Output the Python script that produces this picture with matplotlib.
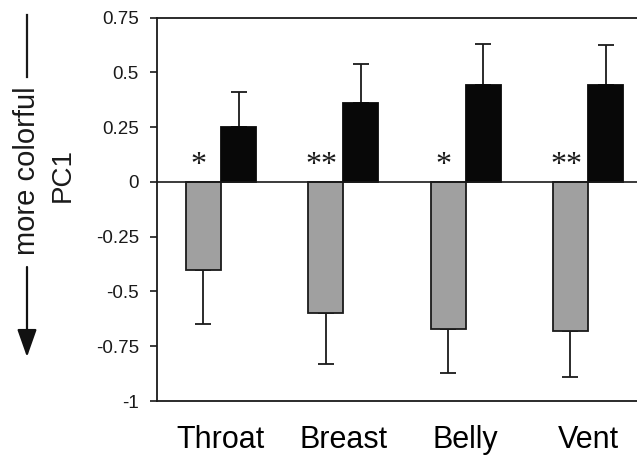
import matplotlib
matplotlib.use("Agg")
import matplotlib.pyplot as plt
import numpy as np

categories = ["Throat", "Breast", "Belly", "Vent"]
gray_vals = [-0.40, -0.60, -0.67, -0.68]
gray_err = [0.25, 0.23, 0.20, 0.21]
black_vals = [0.25, 0.36, 0.44, 0.44]
black_err = [0.16, 0.18, 0.19, 0.185]
sig_marks = ["*", "**", "*", "**"]
ytick_vals = [0.75, 0.5, 0.25, 0, -0.25, -0.5, -0.75, -1]
ytick_labels = ["0.75", "0.5", "0.25", "0", "-0.25", "-0.5", "-0.75", "-1"]

W, H = 637, 455
fig = plt.figure(figsize=(W / 100, H / 100), dpi=100)
ax = fig.add_axes([157 / W, (H - 401) / H, (W - 157) / W, (401 - 17.5) / H])

x = np.arange(len(categories))
w = 0.287
ax.bar(x - w / 2, gray_vals, width=w, color="#a0a0a0", edgecolor="#1a1a1a", linewidth=1.3, zorder=3)
ax.bar(x + w / 2, black_vals, width=w, color="#080808", edgecolor="#080808", linewidth=1.3, zorder=3)

ax.errorbar(x - w / 2, gray_vals, yerr=[gray_err, np.zeros(len(x))], fmt="none",
            ecolor="#1a1a1a", elinewidth=1.3, capsize=5.8, capthick=1.3, zorder=2)
ax.errorbar(x + w / 2, black_vals, yerr=[np.zeros(len(x)), black_err], fmt="none",
            ecolor="#1a1a1a", elinewidth=1.3, capsize=5.8, capthick=1.3, zorder=2)

ax.axhline(0, color="#1a1a1a", linewidth=1.2, zorder=4)

for xi, m in zip(x, sig_marks):
    ax.text(xi - w / 2 - 0.037, 0.042, m, ha="center", va="baseline",
            fontsize=23, family="Liberation Serif", color="#1a1a1a")

ax.set_xlim(-0.523, 3.40)
ax.set_ylim(-1, 0.75)
ax.set_yticks(ytick_vals)
ax.set_yticklabels(ytick_labels, fontsize=13.5, family="Liberation Sans")
ax.set_xticks(x)
ax.set_xticklabels(categories, fontsize=22, family="Liberation Sans")
ax.tick_params(axis="x", length=0, pad=17)
ax.tick_params(axis="y", length=5, width=1.2, direction="out", pad=8, colors="#1a1a1a")

for s in ["left", "bottom", "top"]:
    ax.spines[s].set_linewidth(1.3)
    ax.spines[s].set_color("#1a1a1a")
ax.spines["right"].set_visible(False)

# y-label PC1
fig.text(63 / W, 1 - 175 / H, "PC1", rotation=90, ha="center", va="center",
         fontsize=20, family="Liberation Sans", color="#1a1a1a")
# more colorful with arrow
fig.text(27 / W, 1 - 171 / H, "more colorful", rotation=90, ha="center", va="center",
         fontsize=21, family="Liberation Sans", color="#1a1a1a")
fig.add_artist(plt.Line2D([27 / W, 27 / W], [1 - 15 / H, 1 - 77 / H], color="#1a1a1a",
                          linewidth=1.6, transform=fig.transFigure))
fig.patches.append(matplotlib.patches.FancyArrowPatch(
    (27 / W, 1 - 267 / H), (27 / W, 1 - 357 / H), transform=fig.transFigure,
    arrowstyle="-|>,head_length=1.7,head_width=0.6", mutation_scale=10,
    color="#111111", linewidth=1.6, shrinkA=0, shrinkB=0))

fig.savefig("out.png", dpi=100)
